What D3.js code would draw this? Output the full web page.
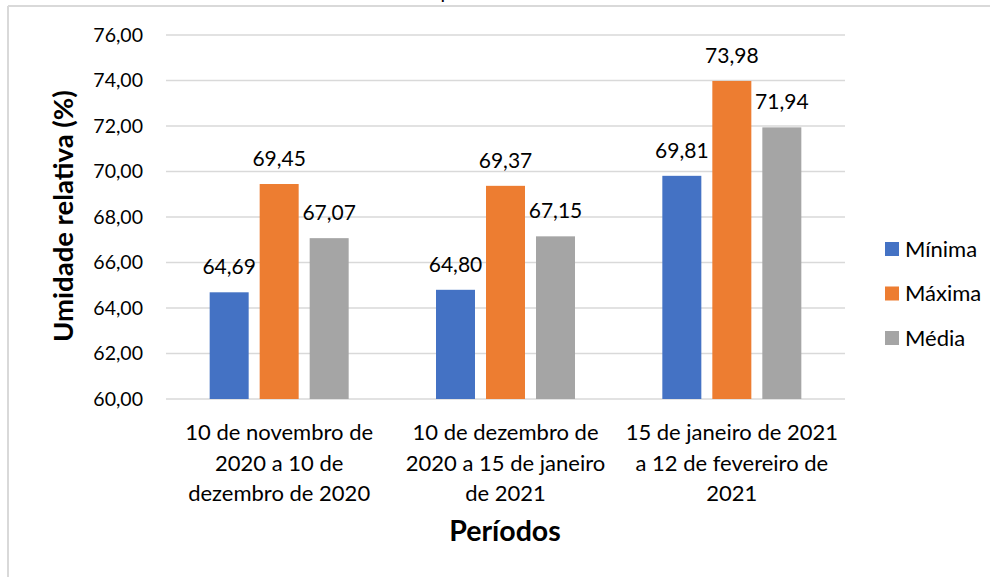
<!DOCTYPE html>
<html>
<head>
<meta charset="utf-8">
<script src="https://cdn.jsdelivr.net/npm/d3@7"></script>
<style>
  html, body { margin: 0; padding: 0; background: #fff; }
  svg { display: block; font-family: Lato, "Open Sans", sans-serif; }
</style>
</head>
<body>
<svg id="chart" width="1000" height="577"></svg>
<script>
// Relative humidity per period
const categories = [
  ["10 de novembro de", "2020 a 10 de", "dezembro de 2020"],
  ["10 de dezembro de", "2020 a 15 de janeiro", "de 2021"],
  ["15 de janeiro de 2021", "a 12 de fevereiro de", "2021"]
];
const seriesNames = ["Mínima", "Máxima", "Média"];
const minima = [64.69, 64.80, 69.81];
const maxima = [69.45, 69.37, 73.98];
const media  = [67.07, 67.15, 71.94];
const yTicks = [60, 62, 64, 66, 68, 70, 72, 74, 76];
const colors = ["#4472C4", "#ED7D31", "#A5A5A5"];

const seriesValues = [minima, maxima, media];
const fmt = v => v.toFixed(2).replace(".", ",");

const svg = d3.select("#chart");

// outer frame (top and left edges visible)
svg.append("line").attr("x1", 8).attr("x2", 990).attr("y1", 6).attr("y2", 6)
  .attr("stroke", "#D9D9D9").attr("stroke-width", 2);
svg.append("line").attr("x1", 8).attr("x2", 8).attr("y1", 6).attr("y2", 577)
  .attr("stroke", "#D9D9D9").attr("stroke-width", 2);

// title sits above the frame, only its descender shows
svg.append("text").attr("x", 446).attr("y", -1).attr("text-anchor", "middle")
  .attr("font-size", 20).attr("fill", "#000").text("p");

const plot = { left: 166, right: 845, top: 35, bottom: 399 };

const y = d3.scaleLinear().domain([60, 76]).range([plot.bottom, plot.top]);
const x0 = d3.scaleBand().domain(d3.range(categories.length))
  .range([plot.left, plot.right]).paddingInner(0).paddingOuter(0);
const groupWidth = 139;
const x1 = d3.scaleBand().domain(d3.range(seriesNames.length))
  .range([0, groupWidth]).paddingInner(0.22).paddingOuter(0);

// gridlines
svg.append("g").selectAll("line").data(yTicks).join("line")
  .attr("x1", plot.left).attr("x2", plot.right)
  .attr("y1", d => y(d)).attr("y2", d => y(d))
  .attr("stroke", "#D9D9D9").attr("stroke-width", 1.5);

// y axis labels
const yAxis = d3.axisLeft(y).tickValues(yTicks).tickFormat(fmt).tickSize(0).tickPadding(0);
const yg = svg.append("g").attr("transform", `translate(143,0)`).call(yAxis);
yg.select(".domain").remove();
yg.selectAll("text").attr("font-size", 19.5).attr("fill", "#000")
  .attr("font-family", "Lato, 'Open Sans', sans-serif");

// bars
const groups = svg.append("g").selectAll("g").data(categories).join("g")
  .attr("transform", (d, i) => `translate(${x0(i) + (x0.bandwidth() - groupWidth) / 2},0)`);

groups.each(function (c, ci) {
  const g = d3.select(this);
  const vals = seriesValues.map(s => s[ci]);
  g.selectAll("rect").data(vals).join("rect")
    .attr("x", (d, si) => x1(si))
    .attr("width", x1.bandwidth())
    .attr("y", d => y(d))
    .attr("height", d => plot.bottom - y(d))
    .attr("fill", (d, si) => colors[si]);
  g.selectAll("text.val").data(vals).join("text")
    .attr("class", "val")
    .attr("x", (d, si) => x1(si) + x1.bandwidth() / 2)
    .attr("y", d => y(d) - 18)
    .attr("text-anchor", "middle")
    .attr("font-size", 21).attr("fill", "#000")
    .text(fmt);
});

// category labels
const catG = svg.append("g").selectAll("text").data(categories).join("text")
  .attr("text-anchor", "middle").attr("font-size", 22).attr("fill", "#000")
  .attr("x", (d, i) => x0(i) + x0.bandwidth() / 2)
  .attr("y", 440);
catG.selectAll("tspan").data(d => d).join("tspan")
  .attr("x", function () { return d3.select(this.parentNode).attr("x"); })
  .attr("dy", (d, i) => i === 0 ? 0 : 30.5)
  .text(d => d);

// axis titles
svg.append("text").attr("x", 505).attr("y", 541)
  .attr("text-anchor", "middle").attr("font-size", 28.5).attr("font-weight", "bold")
  .attr("fill", "#000").text("Períodos");
svg.append("text")
  .attr("transform", `translate(73,216) rotate(-90)`)
  .attr("text-anchor", "middle").attr("font-size", 27.5).attr("font-weight", "bold")
  .attr("fill", "#000").text("Umidade relativa (%)");

// legend
const legend = svg.append("g").selectAll("g").data(seriesNames).join("g")
  .attr("transform", (d, i) => `translate(885,${249 + i * 44.5})`);
legend.append("rect").attr("x", 0).attr("y", -7).attr("width", 14).attr("height", 14)
  .attr("fill", (d, i) => colors[i]);
legend.append("text").attr("x", 20).attr("y", 7.5).attr("font-size", 22)
  .attr("fill", "#000").text(d => d);
</script>
</body>
</html>
